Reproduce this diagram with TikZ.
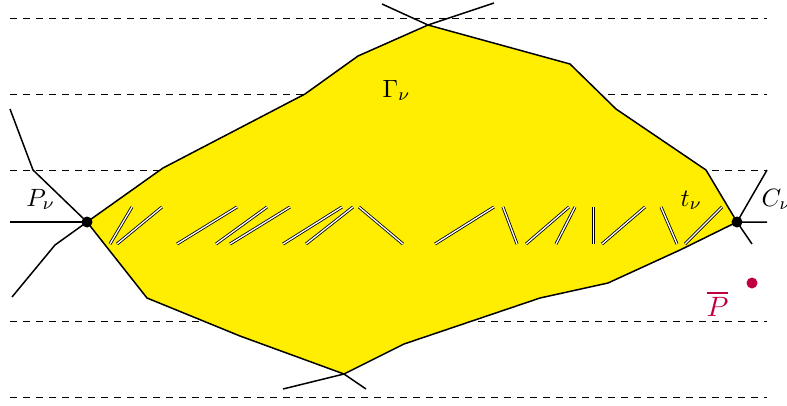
\documentclass[tikz,border=0pt]{standalone}
\usepackage{xcolor}
\definecolor{fillyellow}{RGB}{255,238,0}
\definecolor{pbarcol}{RGB}{191,0,64}
\begin{document}
\begin{tikzpicture}[x=1pt,y=-1pt,
  guide/.style={dashed,dash pattern=on 6.5pt off 6.5pt,line width=0.8pt},
  edge/.style={line width=1.5pt,line join=round},
  twin/.style={double=white,double distance=1.3pt,line width=0.85pt},
  lbl/.style={inner sep=0pt,anchor=base west,scale=2.5},
  vdot/.style={circle,fill=black,inner sep=0pt,minimum size=11pt}]
\useasboundingbox (0,0) rectangle (787,405);
% dashed guides
\foreach \yy in {18,94,170,321,397}
  \draw[guide] (10,\yy) -- (767,\yy);
% vertices
\coordinate (P) at (87,222);
\coordinate (C) at (737,222);
\coordinate (T) at (428,25);
\coordinate (B) at (344,374);
% yellow region
\filldraw[edge,fill=fillyellow] (P) -- (163,168) -- (305,94) -- (358,56) -- (T)
  -- (570,64) -- (616,109) -- (706,170) -- (C) -- (680,250) -- (608,283)
  -- (540,298) -- (404,344) -- (B) -- (240,336) -- (147,298) -- cycle;
% outer edges
\draw[edge] (10,222) -- (P);
\draw[edge] (10,109) -- (33,170) -- (P);
\draw[edge] (12,297) -- (55,245) -- (P);
\draw[edge] (382,4) -- (T) -- (494,3);
\draw[edge] (283,389) -- (B) -- (366,389);
\draw[edge] (767,170) -- (C) -- (767,222);
\draw[edge] (C) -- (752,244);
% double segments
\foreach \a/\b/\c/\d in {132/207/110/244, 162/207/117/244, 237/207/177/244,
  267/207/216/244, 290/207/230/244, 342/207/283/244, 353/207/306/244,
  359/207/403/244, 494/207/435/244, 503/207/517/244, 569/207/526/244,
  575/207/556/244, 593.5/207/593.5/244, 645/207/602/244, 661/207/677/244,
  722/207/685/244}
  \draw[twin] (\a,\b) -- (\c,\d);
% dots
\node[vdot] (Pd) at (P) {};
\node[vdot] (Cd) at (C) {};
\node[circle,fill=pbarcol,inner sep=0pt,minimum size=11pt] (Pbar) at (752,283) {};
% labels
\node[lbl] (gam) at (382,97) {$\Gamma_\nu$};
\node[lbl] (pl) at (26,206) {$P_\nu$};
\node[lbl] (tl) at (680,206) {$t_\nu$};
\node[lbl] (cl) at (761,206) {$C_\nu$};
\node[lbl,scale=1.12,text=pbarcol] (pbl) at (706,316) {$\overline{P}$};
\end{tikzpicture}
\end{document}
